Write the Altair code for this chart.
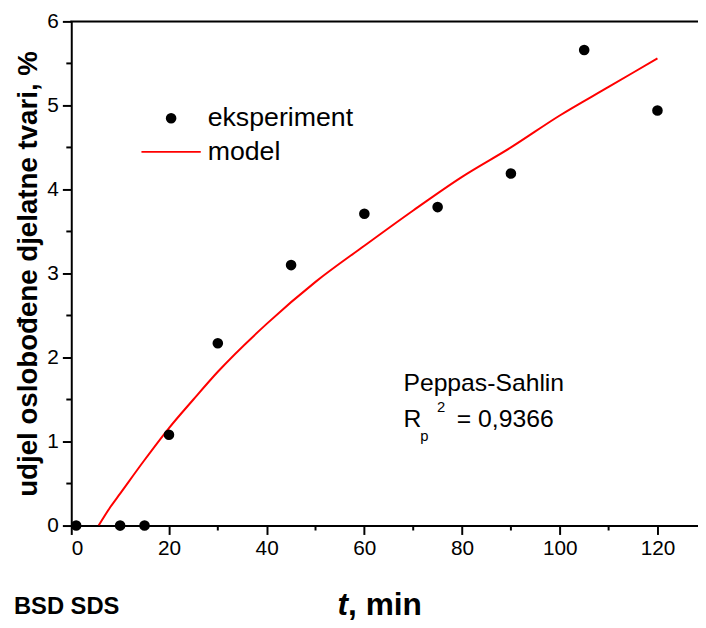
import altair as alt
import pandas as pd

# experimental data
t_exp = [1, 10, 15, 20, 30, 45, 60, 75, 90, 105, 120]
y_exp = [0.0, 0.0, 0.0, 1.08, 2.17, 3.10, 3.71, 3.79, 4.19, 5.66, 4.94]

# model curve
t_mod = [5.6, 8, 10, 15, 20, 25, 30, 40, 50, 60, 70, 80, 90, 100, 110, 120]
y_mod = [0.0, 0.22, 0.38, 0.78, 1.16, 1.50, 1.83, 2.40, 2.90, 3.33, 3.75, 4.15, 4.50, 4.88, 5.22, 5.56]

x_major = [0, 20, 40, 60, 80, 100, 120]
x_minor = [10, 30, 50, 70, 90, 110]
y_major = [0, 1, 2, 3, 4, 5, 6]
y_minor = [0.5, 1.5, 2.5, 3.5, 4.5, 5.5]

W, H = 634, 510
FONT = "Liberation Sans"
XDOM = [0, 128.3]
YDOM = [0, 6]

exp_df = pd.DataFrame({"t": t_exp, "y": y_exp})
mod_df = pd.DataFrame({"t": t_mod, "y": y_mod})

xs = alt.Scale(domain=XDOM, nice=False, zero=False)
ys = alt.Scale(domain=YDOM, nice=False, zero=False)

xaxis = alt.Axis(values=x_major, title=None, labelFont=FONT, labelFontSize=21,
                 labelColor="black", domainColor="black", domainWidth=2,
                 tickColor="black", tickWidth=2, tickSize=9, grid=False, labelPadding=3,
                 format="d")
yaxis = alt.Axis(values=y_major, title="udjel oslobođene djelatne tvari, %",
                 titleFont=FONT, titleFontSize=28, titleFontWeight="bold", titleColor="black",
                 titlePadding=4, format="d",
                 labelFont=FONT, labelFontSize=21, labelColor="black",
                 domainColor="black", domainWidth=2, tickColor="black", tickWidth=2,
                 tickSize=9, grid=False, labelPadding=4)

base_axes = alt.Chart(exp_df).mark_point(opacity=0).encode(
    x=alt.X("t:Q", scale=xs, axis=xaxis),
    y=alt.Y("y:Q", scale=ys, axis=yaxis),
)

line = alt.Chart(mod_df).mark_line(color="#ff0000", strokeWidth=2, clip=True,
                                   interpolate="monotone").encode(
    x=alt.X("t:Q", scale=xs), y=alt.Y("y:Q", scale=ys))

pts = alt.Chart(exp_df).mark_circle(color="black", size=115, opacity=1).encode(
    x=alt.X("t:Q", scale=xs), y=alt.Y("y:Q", scale=ys))

# minor ticks
xmin_df = pd.DataFrame({"t": x_minor})
xminor = alt.Chart(xmin_df).mark_rule(color="black", strokeWidth=2).encode(
    x=alt.X("t:Q", scale=xs), y=alt.value(H), y2=alt.value(H + 5))
ymin_df = pd.DataFrame({"y": y_minor})
yminor = alt.Chart(ymin_df).mark_rule(color="black", strokeWidth=2).encode(
    y=alt.Y("y:Q", scale=ys), x=alt.value(0), x2=alt.value(-5))

# top frame
top_line = alt.Chart(pd.DataFrame({"a": [0]})).mark_rule(color="black", strokeWidth=2).encode(
    x=alt.value(-1), x2=alt.value(W), y=alt.value(0))

one = pd.DataFrame({"a": [0]})

def txt(s, x, y, size=26, weight="normal", style="normal", align="left", baseline="middle"):
    return alt.Chart(one).mark_text(text=s, font=FONT, fontSize=size, fontWeight=weight,
                                    fontStyle=style, align=align, baseline=baseline,
                                    color="black").encode(x=alt.value(x), y=alt.value(y))

legend_dot = alt.Chart(one).mark_point(filled=True, shape="circle", size=115, color="black",
                                       opacity=1).encode(x=alt.value(101), y=alt.value(98))
legend_line = alt.Chart(one).mark_rule(color="#ff0000", strokeWidth=2).encode(
    x=alt.value(71), x2=alt.value(131), y=alt.value(132))

texts = [
    txt("eksperiment", 138, 98, size=27),
    txt("model", 138, 132, size=27),
    txt("Peppas-Sahlin", 336, 366, size=25),
    txt("R", 336, 402, size=25),
    txt("p", 353, 419, size=15),
    txt("2", 370, 390, size=15),
    txt("= 0,9366", 390, 402, size=25),
    txt("BSD SDS", -58, 599, size=24, weight="bold", baseline="alphabetic"),
    txt("t", 280, 600, size=32, weight="bold", style="italic", align="right", baseline="alphabetic"),
    txt(", min", 280, 600, size=32, weight="bold", baseline="alphabetic"),
]

chart = alt.layer(base_axes, line, pts, xminor, yminor, top_line,
                  legend_dot, legend_line, *texts).properties(
    width=W, height=H,
    autosize=alt.AutoSizeParams(type="none"),
    padding={"left": 64, "top": 10, "right": 0, "bottom": 93},
).configure_view(stroke=None).configure(background="white")

chart.save("out.html", embed_options={"renderer": "svg", "actions": False})
